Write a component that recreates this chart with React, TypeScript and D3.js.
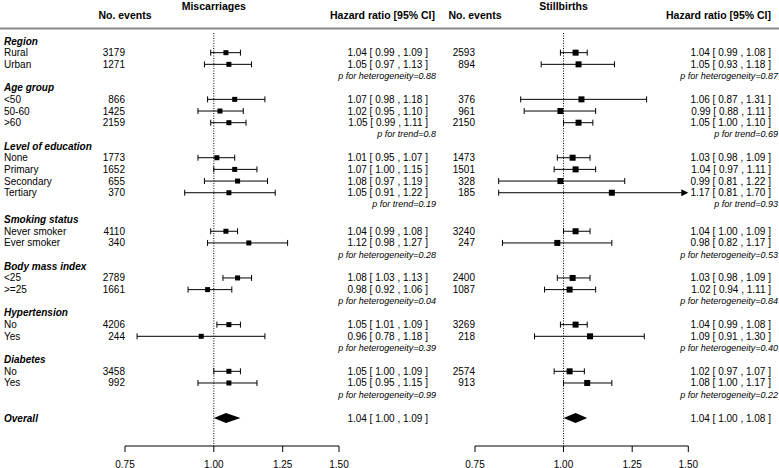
import React from 'react';
import * as d3 from 'd3';

const groups = ['Region', 'Age group', 'Level of education', 'Smoking status', 'Body mass index', 'Hypertension', 'Diabetes'];
const groupItems = [
  ['Rural', 'Urban'],
  ['<50', '50-60', '>60'],
  ['None', 'Primary', 'Secondary', 'Tertiary'],
  ['Never smoker', 'Ever smoker'],
  ['<25', '>=25'],
  ['No', 'Yes'],
  ['No', 'Yes'],
];
const groupGapBefore = [0, 0, 0, 0.3, 0, 0, 0];

// Miscarriages
const miscEvents = [3179, 1271, 866, 1425, 2159, 1773, 1652, 655, 370, 4110, 340, 2789, 1661, 4206, 244, 3458, 992];
const miscHR = [1.04, 1.05, 1.07, 1.02, 1.05, 1.01, 1.07, 1.08, 1.05, 1.04, 1.12, 1.08, 0.98, 1.05, 0.96, 1.05, 1.05];
const miscLo = [0.99, 0.97, 0.98, 0.95, 0.99, 0.95, 1.0, 0.97, 0.91, 0.99, 0.98, 1.03, 0.92, 1.01, 0.78, 1.0, 0.95];
const miscHi = [1.09, 1.13, 1.18, 1.1, 1.11, 1.07, 1.15, 1.19, 1.22, 1.08, 1.27, 1.13, 1.06, 1.09, 1.18, 1.09, 1.15];
const miscP = ['p for heterogeneity=0.88', 'p for trend=0.8', 'p for trend=0.19', 'p for heterogeneity=0.28', 'p for heterogeneity=0.04', 'p for heterogeneity=0.39', 'p for heterogeneity=0.99'];
const miscOverall = [1.04, 1.0, 1.09];

// Stillbirths
const stillEvents = [2593, 894, 376, 961, 2150, 1473, 1501, 328, 185, 3240, 247, 2400, 1087, 3269, 218, 2574, 913];
const stillHR = [1.04, 1.05, 1.06, 0.99, 1.05, 1.03, 1.04, 0.99, 1.17, 1.04, 0.98, 1.03, 1.02, 1.04, 1.09, 1.02, 1.08];
const stillLo = [0.99, 0.93, 0.87, 0.88, 1.0, 0.98, 0.97, 0.81, 0.81, 1.0, 0.82, 0.98, 0.94, 0.99, 0.91, 0.97, 1.0];
const stillHi = [1.08, 1.18, 1.31, 1.11, 1.1, 1.09, 1.11, 1.22, 1.7, 1.09, 1.17, 1.09, 1.11, 1.08, 1.3, 1.07, 1.17];
const stillP = ['p for heterogeneity=0.87', 'p for trend=0.69', 'p for trend=0.93', 'p for heterogeneity=0.53', 'p for heterogeneity=0.84', 'p for heterogeneity=0.40', 'p for heterogeneity=0.22'];
const stillOverall = [1.04, 1.0, 1.08];

const axisTicks = [0.75, 1.0, 1.25, 1.5];

const W = 779;
const H = 468;
const FONT = '"Liberation Sans", Arial, Helvetica, sans-serif';
const f2 = d3.format('.2f');

// build row layout
type Row = { kind: 'head' | 'item' | 'p' | 'overall'; r: number; label?: string; g: number; i?: number };
const rows: Row[] = [];
{
  let r = 0;
  let k = 0;
  groups.forEach((g, gi) => {
    r += groupGapBefore[gi];
    rows.push({ kind: 'head', r, label: g, g: gi });
    r += 1;
    groupItems[gi].forEach((lab) => {
      rows.push({ kind: 'item', r, label: lab, g: gi, i: k });
      k += 1;
      r += 1;
    });
    rows.push({ kind: 'p', r, g: gi });
    r += 1;
  });
  r += 1;
  rows.push({ kind: 'overall', r, label: 'Overall', g: -1 });
}
const lastRow = rows[rows.length - 1].r;
const y = d3.scaleLinear().domain([0, lastRow]).range([41, 418]);

const panels = [
  {
    title: 'Miscarriages',
    range: [125, 339],
    eventsX: 125,
    hrX: 428,
    pX: 436,
    headX: 435,
    sq: 5,
    events: miscEvents, hr: miscHR, lo: miscLo, hi: miscHi, p: miscP, overall: miscOverall,
  },
  {
    title: 'Stillbirths',
    range: [475, 688.3],
    eventsX: 475,
    hrX: 771,
    pX: 778,
    headX: 771,
    sq: 6,
    events: stillEvents, hr: stillHR, lo: stillLo, hi: stillHi, p: stillP, overall: stillOverall,
  },
];

const axisY = 446;

function Panel({ pn }: { pn: typeof panels[number] }) {
  const x = d3.scaleLog().domain([0.75, 1.5]).range(pn.range as [number, number]);
  const [dmin, dmax] = x.domain();
  const ciText = (e: number, l: number, h: number) => `${f2(e)} [ ${f2(l)} , ${f2(h)} ]`;
  return (
    <g>
      <text x={x(1)} y={6} textAnchor="middle" dominantBaseline="central" fontWeight="bold" fontSize={10.5}>{pn.title}</text>
      <text x={pn.eventsX} y={15} textAnchor="middle" dominantBaseline="central" fontWeight="bold" fontSize={10.5}>No. events</text>
      <text x={pn.headX} y={15} textAnchor="end" dominantBaseline="central" fontWeight="bold" fontSize={10.5}>Hazard ratio [95% CI]</text>
      <line x1={x(1)} x2={x(1)} y1={33} y2={axisY} stroke="#000" strokeWidth={1} strokeDasharray="1,1.5" />
      {rows.map((row, ri) => {
        const yy = y(row.r);
        if (row.kind === 'item') {
          const i = row.i as number;
          const e = pn.hr[i], l = pn.lo[i], h = pn.hi[i];
          const clipHi = h > dmax;
          const clipLo = l < dmin;
          const xl = x(Math.max(l, dmin));
          const xh = x(Math.min(h, dmax));
          const s = pn.sq;
          return (
            <g key={ri}>
              <text x={pn.eventsX} y={yy} textAnchor="end" dominantBaseline="central" fontSize={10}>{pn.events[i]}</text>
              <line x1={xl} x2={clipHi ? xh - 6 : xh} y1={yy} y2={yy} stroke="#000" strokeWidth={1} />
              {!clipLo && <line x1={xl} x2={xl} y1={yy - 3} y2={yy + 3} stroke="#000" strokeWidth={1} />}
              {!clipHi && <line x1={xh} x2={xh} y1={yy - 3} y2={yy + 3} stroke="#000" strokeWidth={1} />}
              {clipHi && <polygon points={`${xh - 7},${yy - 3.5} ${xh},${yy} ${xh - 7},${yy + 3.5}`} fill="#000" />}
              <rect x={x(e) - s / 2} y={yy - s / 2} width={s} height={s} fill="#000" />
              <text x={pn.hrX} y={yy} textAnchor="end" dominantBaseline="central" fontSize={10}>{ciText(e, l, h)}</text>
            </g>
          );
        }
        if (row.kind === 'p') {
          return (
            <text key={ri} x={pn.pX} y={yy} textAnchor="end" dominantBaseline="central" fontSize={9} fontStyle="italic">{pn.p[row.g]}</text>
          );
        }
        if (row.kind === 'overall') {
          const [e, l, h] = pn.overall;
          return (
            <g key={ri}>
              <polygon points={`${x(l)},${yy} ${x(e)},${yy - 5} ${x(h)},${yy} ${x(e)},${yy + 5}`} fill="#000" />
              <text x={pn.hrX} y={yy} textAnchor="end" dominantBaseline="central" fontSize={10}>{ciText(e, l, h)}</text>
            </g>
          );
        }
        return null;
      })}
      <line x1={x(dmin)} x2={x(dmax)} y1={axisY} y2={axisY} stroke="#000" strokeWidth={1} />
      {axisTicks.map((t) => (
        <g key={t}>
          <line x1={x(t)} x2={x(t)} y1={axisY} y2={axisY + 6} stroke="#000" strokeWidth={1} />
          <text x={x(t)} y={axisY + 18} textAnchor="middle" dominantBaseline="central" fontSize={10}>{f2(t)}</text>
        </g>
      ))}
    </g>
  );
}

export default function App() {
  return (
    <svg width={W} height={H} viewBox={`0 0 ${W} ${H}`} style={{ position: 'absolute', left: 0, top: 0, background: '#fff' }} fontFamily={FONT}>
      <line x1={0} x2={W} y1={28.5} y2={28.5} stroke="#888" strokeWidth={2} />
      {rows.filter((r) => r.kind !== 'p').map((row, ri) => (
        <text
          key={ri}
          x={4}
          y={y(row.r)}
          dominantBaseline="central"
          fontSize={10}
          fontWeight={row.kind === 'item' ? 'normal' : 'bold'}
          fontStyle={row.kind === 'item' ? 'normal' : 'italic'}
        >
          {row.label}
        </text>
      ))}
      {panels.map((pn, i) => (
        <Panel key={i} pn={pn} />
      ))}
    </svg>
  );
}
